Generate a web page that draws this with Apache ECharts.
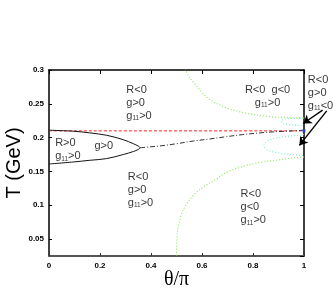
<!DOCTYPE html>
<html><head><meta charset="utf-8">
<script src="https://cdn.jsdelivr.net/npm/echarts@6/dist/echarts.min.js"></script>
<style>html,body{margin:0;padding:0;background:#fff}#c{width:333px;height:290px}</style>
</head><body><div id="c"></div>
<script>
// ---- data (theta/pi, T in GeV) ----
const xTicks = [0, 0.2, 0.4, 0.6, 0.8, 1];
const yTicks = [0.05, 0.1, 0.15, 0.2, 0.25, 0.3];
const ellipseCurve = [[0,0.211],[0.095,0.2095],[0.16,0.207],[0.226,0.2035],[0.291,0.197],[0.331,0.191],[0.350,0.1875],[0.357,0.185],[0.350,0.1825],[0.331,0.1795],[0.291,0.175],[0.226,0.169],[0.16,0.1665],[0.095,0.164],[0,0.161]];
const dashDotCurve = [[0.357,0.185],[0.40,0.1865],[0.435,0.1877],[0.5,0.191],[0.566,0.195],[0.63,0.198],[0.697,0.2015],[0.76,0.2045],[0.827,0.207],[0.9,0.209],[0.958,0.210],[1,0.211]];
const redLine = [[0,0.21],[1,0.21]];
const greenUpper = [[0.535,0.302],[0.545,0.292],[0.566,0.282],[0.6,0.267],[0.631,0.256],[0.697,0.244],[0.775,0.236],[0.867,0.231],[0.95,0.2295],[1,0.229]];
const greenLower = [[1,0.1713],[0.958,0.170],[0.893,0.1666],[0.827,0.1635],[0.762,0.1575],[0.697,0.149],[0.658,0.139],[0.605,0.127],[0.566,0.1145],[0.54,0.102],[0.52,0.0873],[0.507,0.0675],[0.501,0.0477],[0.5,0.024]];
const cyanUpper = [[1,0.229],[0.96,0.2285],[0.925,0.2275],[0.91,0.224],[0.92,0.2205],[0.95,0.219],[1,0.2175]];
const cyanLower = [[1,0.2045],[0.95,0.2025],[0.9,0.2],[0.86,0.196],[0.843,0.189],[0.855,0.1825],[0.885,0.1785],[0.93,0.176],[0.97,0.1745],[1,0.1735]];
const blueMarker = [[1,0.21]];
const arrowLines = [[[1.073,0.2406],[0.997,0.2209]],[[1.089,0.2396],[0.982,0.1885]]];
const regionText = [
  ['R<0','g>0','g11>0'],
  ['R<0  g<0','g11>0'],
  ['R<0','g>0','g11<0'],
  ['R>0','g11>0'],
  ['g>0'],
  ['R<0','g>0','g11>0'],
  ['R<0','g<0','g11>0']
];
const regionAnchor = [[0.305,0.280],[0.859,0.280],[1.017,0.2948],[0.026,0.201],[0.180,0.1968],[0.311,0.1513],[0.753,0.1249]];
const regionAlign = ['left','center','left','left','left','left','left'];

// ---- chart ----
const chart = echarts.init(document.getElementById('c'), null, {renderer:'canvas'});
const FONT = 'Liberation Sans';
function richLine(s){
  const m = s.match(/^(.*?)g11(.*)$/);
  if (m) return (m[1]?'{t|'+m[1]+'}':'') + '{t|g}{s|11}{t|'+m[2]+'}';
  return '{t|'+s+'}';
}
const rich = {
  t:{fontSize:11, lineHeight:13, fontFamily:FONT, color:'#000'},
  s:{fontSize:6.5, lineHeight:9, fontFamily:FONT, color:'#000', verticalAlign:'bottom'}
};
function lineSeries(data, color, type, width){
  return {type:'line', data:data, symbol:'none', smooth:0.35, clip:true, silent:true,
    lineStyle:{color:color, type:type, width:width}, z:3};
}
const option = {
  animation:false,
  grid:{left:49, right:29, top:70, bottom:34, containLabel:false, outerBoundsMode:'none'},
  xAxis:[
    {type:'value', min:xTicks[0], max:xTicks[xTicks.length-1], interval:0.2, position:'bottom',
     axisLine:{show:true, onZero:false, lineStyle:{color:'#555', width:2}},
     axisTick:{show:true, inside:true, length:3, lineStyle:{color:'#333'}},
     axisLabel:{fontSize:8, fontWeight:'bold', color:'#000', margin:6, fontFamily:FONT},
     splitLine:{show:false},
     name:'θ/π', nameLocation:'middle', nameGap:14, nameMoveOverlap:false,
     nameTextStyle:{fontFamily:'Liberation Serif', fontSize:20, color:'#000'}},
    {type:'value', min:xTicks[0], max:xTicks[xTicks.length-1], interval:0.2, position:'top',
     axisLine:{show:true, onZero:false, lineStyle:{color:'#000', width:1.5}},
     axisTick:{show:true, inside:true, length:4, lineStyle:{color:'#000'}},
     axisLabel:{show:false}, splitLine:{show:false}}
  ],
  yAxis:[
    {type:'value', min:0.025, max:yTicks[yTicks.length-1], splitNumber:5, position:'left',
     axisLine:{show:true, onZero:false, lineStyle:{color:'#000', width:1.5}},
     axisTick:{show:true, inside:true, length:3, lineStyle:{color:'#000'}},
     axisLabel:{fontSize:8, fontWeight:'bold', color:'#000', margin:5, fontFamily:FONT, showMinLabel:false},
     splitLine:{show:false},
     name:'T (GeV)', nameLocation:'middle', nameGap:25, nameRotate:90, nameMoveOverlap:false,
     nameTextStyle:{fontFamily:FONT, fontSize:20, color:'#000'}},
    {type:'value', min:0.025, max:yTicks[yTicks.length-1], splitNumber:5, position:'right',
     axisLine:{show:true, onZero:false, lineStyle:{color:'#000', width:1.5}},
     axisTick:{show:true, inside:true, length:4, lineStyle:{color:'#000'}},
     axisLabel:{show:false}, splitLine:{show:false}}
  ],
  series:[
    lineSeries(greenUpper, '#8fe860', [1,2], 1.2),
    lineSeries(greenLower, '#8fe860', [1,2], 1.2),
    lineSeries(cyanUpper, '#80eed8', [1,2], 1.2),
    lineSeries(cyanLower, '#80eed8', [1,2], 1.2),
    lineSeries(redLine, '#ff2020', [3,2], 1),
    lineSeries(dashDotCurve, '#333', [5,2,1,2], 1),
    lineSeries(ellipseCurve, '#111', 'solid', 1),
    {type:'scatter', data:blueMarker, symbol:'rect', symbolSize:3, itemStyle:{color:'#2040ff'}, z:5, silent:true},
    {type:'lines', coordinateSystem:'cartesian2d', clip:false, silent:true, z:6,
     symbol:['none','arrow'], symbolSize:8,
     lineStyle:{color:'#000', width:1.4, opacity:1, curveness:0},
     data:arrowLines.map(c=>({coords:c}))},
    {type:'scatter', clip:false, silent:true, z:7, symbolSize:1, itemStyle:{color:'rgba(0,0,0,0)'},
     data:regionText.map((lines,i)=>({
       value:regionAnchor[i],
       label:{show:true, position:[0,0], align:regionAlign[i], verticalAlign:'top',
         formatter:lines.map(richLine).join('\n'), rich:rich}
     }))}
  ]
};
chart.setOption(option);
</script>
</body></html>
